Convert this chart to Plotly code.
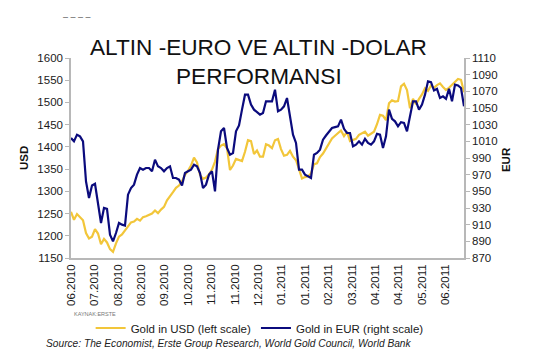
import plotly.graph_objects as go

# ---- data ----
tick_labels = ["06.2010", "07.2010", "08.2010", "08.2010", "09.2010", "10.2010",
               "11.2010", "11.2010", "12.2010", "01.2011", "01.2011", "02.2011",
               "03.2011", "04.2011", "04.2011", "05.2011", "06.2011"]

gold_usd = [1254, 1236, 1249, 1243, 1235, 1206, 1194, 1198, 1215, 1205, 1181, 1193,
            1185, 1170, 1164, 1183, 1198, 1203, 1213, 1220, 1230, 1232, 1238, 1234,
            1242, 1244, 1247, 1250, 1257, 1251, 1259, 1265, 1280,
            1288, 1298, 1308, 1313, 1323, 1337, 1346, 1358, 1376, 1365, 1337, 1328,
            1331, 1338, 1349, 1367, 1395, 1403, 1406, 1397, 1348, 1358, 1373, 1370,
            1368, 1389, 1415, 1413, 1384, 1392, 1378, 1378,
            1406, 1403, 1397, 1415, 1418, 1395, 1380, 1382, 1391, 1378, 1370, 1350,
            1329, 1332, 1334, 1340, 1361, 1363, 1377, 1385, 1397, 1409, 1419, 1425,
            1430, 1437, 1424, 1434, 1413, 1415, 1418, 1427,
            1430, 1434, 1425, 1430, 1434, 1451, 1472, 1470, 1460, 1498, 1505, 1502,
            1503, 1536, 1542, 1528, 1487, 1508, 1496, 1508, 1518, 1532, 1526, 1538,
            1533, 1539, 1543, 1535, 1528, 1533, 1539, 1547, 1553, 1551, 1523]

gold_eur = [1014, 1010, 1018, 1016, 1010, 962, 942, 957, 959, 938, 912, 930,
            929, 898, 890, 900, 912, 910, 909, 946, 954, 958, 970, 978,
            976, 978, 978, 974, 988, 980, 978, 974, 978,
            980, 966, 966, 964, 957, 972, 974, 976, 982, 980, 972, 954,
            958, 970, 974, 950, 1000, 1022, 1026, 1002, 994, 996, 1022, 1029,
            1048, 1066, 1066, 1054, 1048, 1045, 1042, 1044,
            1058, 1058, 1058, 1072, 1046, 1048, 1052, 1062, 1040, 1018, 1008, 976,
            976, 970, 968, 966, 994, 996, 1000, 1012, 1017, 1022, 1026, 1027,
            1028, 1036, 1025, 1020, 1020, 1004, 1006, 1010,
            1006, 1013, 1008, 1006, 1010, 1019, 1018, 1002, 1016, 1048, 1037, 1034,
            1028, 1033, 1032, 1022, 1038, 1058, 1058, 1048, 1054, 1066, 1082, 1081,
            1071, 1073, 1062, 1064, 1061, 1073, 1058, 1078, 1077, 1074, 1052]

idx = list(range(len(gold_usd)))
label_step = 7.8  # samples between consecutive date labels

YELLOW = "#F2C63A"
NAVY = "#0B0B7D"
FONT = "Liberation Sans, Arial, sans-serif"

fig = go.Figure()
fig.add_trace(go.Scatter(x=idx, y=gold_usd, mode="lines", name="Gold in USD (left scale)",
                         line=dict(color=YELLOW, width=2.2)))
fig.add_trace(go.Scatter(x=idx, y=gold_eur, mode="lines", name="Gold in EUR (right scale)",
                         yaxis="y2", line=dict(color=NAVY, width=2.2)))

axis_common = dict(showgrid=False, zeroline=False, showline=True, linecolor="#b8b8b8",
                   linewidth=1.5, tickfont=dict(family=FONT, size=11.5, color="#1a1a1a"))

fig.update_layout(
    width=556, height=360,
    margin=dict(l=71, r=92, t=58, b=102),
    paper_bgcolor="white", plot_bgcolor="white",
    font=dict(family=FONT, color="#1a1a1a"),
    xaxis=dict(range=[0, len(idx) - 1], tickmode="array",
               tickvals=[j * label_step for j in range(len(tick_labels))],
               ticktext=tick_labels, tickangle=-90, ticks="", **axis_common),
    yaxis=dict(range=[1150, 1600], tick0=1150, dtick=50, ticks="outside", ticklen=4,
               tickcolor="#b8b8b8", **axis_common),
    yaxis2=dict(range=[870, 1110], tick0=870, dtick=20, ticks="outside", ticklen=4,
                tickcolor="#b8b8b8", overlaying="y", side="right", **axis_common),
    showlegend=True,
    legend=dict(orientation="h", x=0.48, xanchor="center", y=-0.35, yanchor="middle",
                font=dict(family=FONT, size=11.5, color="#1a1a1a"), bgcolor="rgba(0,0,0,0)",
                itemwidth=30),
)

ann = [
    dict(text="ALTIN -EURO VE ALTIN -DOLAR", x=0.478, y=1.05, font=dict(size=22.6, color="#111")),
    dict(text="PERFORMANSI", x=0.478, y=0.91, font=dict(size=22.6, color="#111")),
    dict(text="<b>USD</b>", x=-0.1196, y=0.5, textangle=-90, font=dict(size=11.5, color="#111")),
    dict(text="<b>EUR</b>", x=1.107, y=0.49, textangle=-90, font=dict(size=11.5, color="#111")),
    dict(text="KAYNAK:ERSTE", x=0.0623, y=-0.28, font=dict(size=5.5, color="#777")),
    dict(text="<i>Source: The Economist, Erste Group Research, World Gold Council, World Bank</i>",
         x=-0.0687, y=-0.425, xanchor="left", font=dict(size=10.2, color="#222")),
    dict(text="– – – –", x=0.0165, y=1.205, font=dict(size=9, color="#555")),
]
for a in ann:
    a.setdefault("xanchor", "center")
    a.update(xref="paper", yref="paper", yanchor="middle", showarrow=False)
    a["font"]["family"] = FONT
fig.update_layout(annotations=ann)

fig.write_html("out.html", config={"displayModeBar": False},
               post_script="document.body.style.margin='0';document.body.style.overflow='hidden';")
